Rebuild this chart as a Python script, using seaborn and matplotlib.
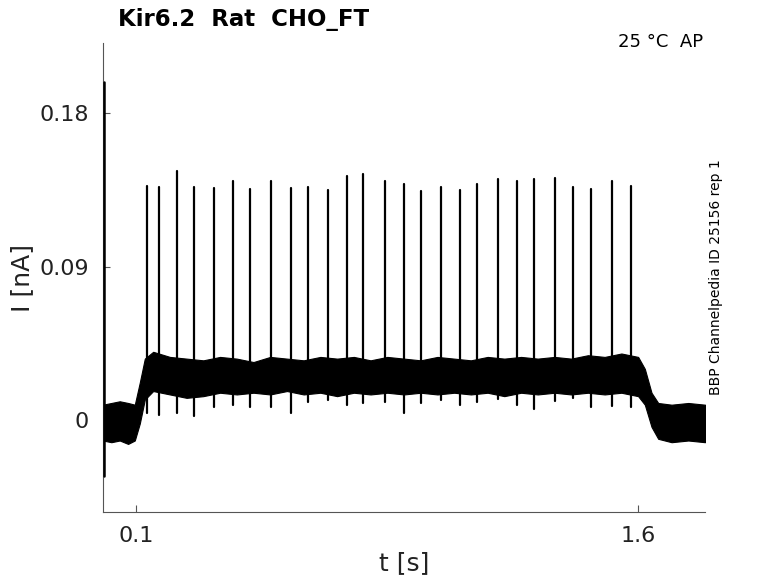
#Kir6.2 current trace, AP protocol - seaborn / matplotlib version
import matplotlib
matplotlib.use("Agg")
import matplotlib.pyplot as plt
import pandas as pd
import seaborn as sns

#spike times [s], peak and dip current [nA]
spike_t = [0.1307, 0.1666, 0.2204, 0.2721, 0.3328, 0.3879, 0.4396, 0.5024, 0.5613,
           0.6121, 0.6729, 0.7288, 0.7784, 0.8424, 0.8992, 0.9501, 1.0108, 1.0667,
           1.1175, 1.1803, 1.2380, 1.2898, 1.3508, 1.4055, 1.4584, 1.5212, 1.5780]
spike_peak = [0.1374, 0.1366, 0.1460, 0.1368, 0.1358, 0.1403, 0.1353, 0.1403, 0.1358,
              0.1366, 0.1350, 0.1431, 0.1444, 0.1403, 0.1382, 0.1343, 0.1368, 0.1350,
              0.1382, 0.1413, 0.1400, 0.1411, 0.1417, 0.1364, 0.1353, 0.1403, 0.1372]
spike_dip = [0.0041, 0.0029, 0.0041, 0.0023, 0.0076, 0.0088, 0.0076, 0.0076, 0.0041,
             0.0106, 0.0117, 0.0088, 0.0100, 0.0106, 0.0041, 0.0100, 0.0117, 0.0088,
             0.0106, 0.0123, 0.0088, 0.0064, 0.0111, 0.0129, 0.0076, 0.0082, 0.0076]

#noise band of the trace: upper / lower edge [nA]
band_t = [0.000, 0.025, 0.050, 0.075, 0.095, 0.110, 0.125, 0.150, 0.200, 0.250,
          0.300, 0.350, 0.400, 0.450, 0.500, 0.550, 0.600, 0.650, 0.700, 0.750,
          0.800, 0.850, 0.900, 0.950, 1.000, 1.050, 1.100, 1.150, 1.200, 1.250,
          1.300, 1.350, 1.400, 1.450, 1.500, 1.550, 1.600, 1.620, 1.640, 1.660,
          1.700, 1.750, 1.800]
band_hi = [0.009, 0.010, 0.011, 0.010, 0.009, 0.022, 0.036, 0.040, 0.037, 0.036,
           0.035, 0.037, 0.036, 0.034, 0.037, 0.036, 0.035, 0.037, 0.036, 0.037,
           0.035, 0.037, 0.036, 0.035, 0.037, 0.036, 0.035, 0.037, 0.036, 0.037,
           0.036, 0.037, 0.036, 0.038, 0.037, 0.039, 0.037, 0.030, 0.016, 0.010,
           0.009, 0.010, 0.009]
band_lo = [-0.012, -0.013, -0.012, -0.014, -0.012, -0.002, 0.012, 0.017, 0.015, 0.013,
           0.014, 0.016, 0.015, 0.016, 0.015, 0.017, 0.015, 0.016, 0.014, 0.016,
           0.015, 0.016, 0.015, 0.016, 0.015, 0.016, 0.015, 0.016, 0.014, 0.016,
           0.015, 0.016, 0.015, 0.016, 0.015, 0.016, 0.014, 0.009, -0.004, -0.011,
           -0.013, -0.012, -0.013]

#capacitive transient at the start
trans_t = [0.002, 0.002]
trans_i = [-0.033, 0.198]

xticks = [0.1, 1.6]
yticks = [0, 0.09, 0.18]
ytick_labels = ["0", "0.09", "0.18"]

#long table so seaborn draws each spike as its own unit
rows = []
for k in range(len(spike_t)):
    rows.append({"spike": k, "t": spike_t[k], "I": spike_dip[k]})
    rows.append({"spike": k, "t": spike_t[k], "I": spike_peak[k]})
spikes = pd.DataFrame(rows)

sns.set_style("ticks")
plt.rcParams["font.family"] = ["DejaVu Sans"]

fig = plt.figure(figsize=(7.78, 5.83), dpi=100)
ax = fig.add_axes([0.1324, 0.1218, 0.7738, 0.8044])

ax.fill_between(band_t, band_lo, band_hi, color="black", lw=0.8, edgecolor="black")
sns.lineplot(data=spikes, x="t", y="I", units="spike", estimator=None, sort=False,
             color="black", linewidth=1.6, ax=ax)
ax.plot(trans_t, trans_i, color="black", lw=1.8, zorder=5, clip_on=False)

ax.set_xlim(0, 1.8)
ax.set_ylim(-0.0539, 0.221)
ax.set_xticks(xticks)
ax.set_xticklabels([str(v) for v in xticks])
ax.set_yticks(yticks)
ax.set_yticklabels(ytick_labels)
ax.tick_params(direction="in", length=5, width=0.8, colors="#555555",
               labelcolor="#222222", labelsize=16, pad=10)
for side in ["top", "right"]:
    ax.spines[side].set_visible(False)
for side in ["left", "bottom"]:
    ax.spines[side].set_color("#555555")
    ax.spines[side].set_linewidth(0.8)

ax.set_xlabel("t [s]", fontsize=18, color="#222222", labelpad=4)
ax.set_ylabel("I [nA]", fontsize=18, color="#222222", labelpad=4)

fig.text(118 / 778, 1 - 26 / 583, "Kir6.2  Rat  CHO_FT", fontsize=16.5,
         fontweight="bold", va="baseline", ha="left", color="black")
fig.text(703 / 778, 1 - 47 / 583, "25 °C  AP", fontsize=13, va="baseline", ha="right",
         color="black")
fig.text(716 / 778, 1 - 395 / 583, "BBP Channelpedia ID 25156 rep 1", fontsize=10,
         rotation=90, ha="center", va="bottom", color="black")

plt.savefig("out.png", dpi=100)
